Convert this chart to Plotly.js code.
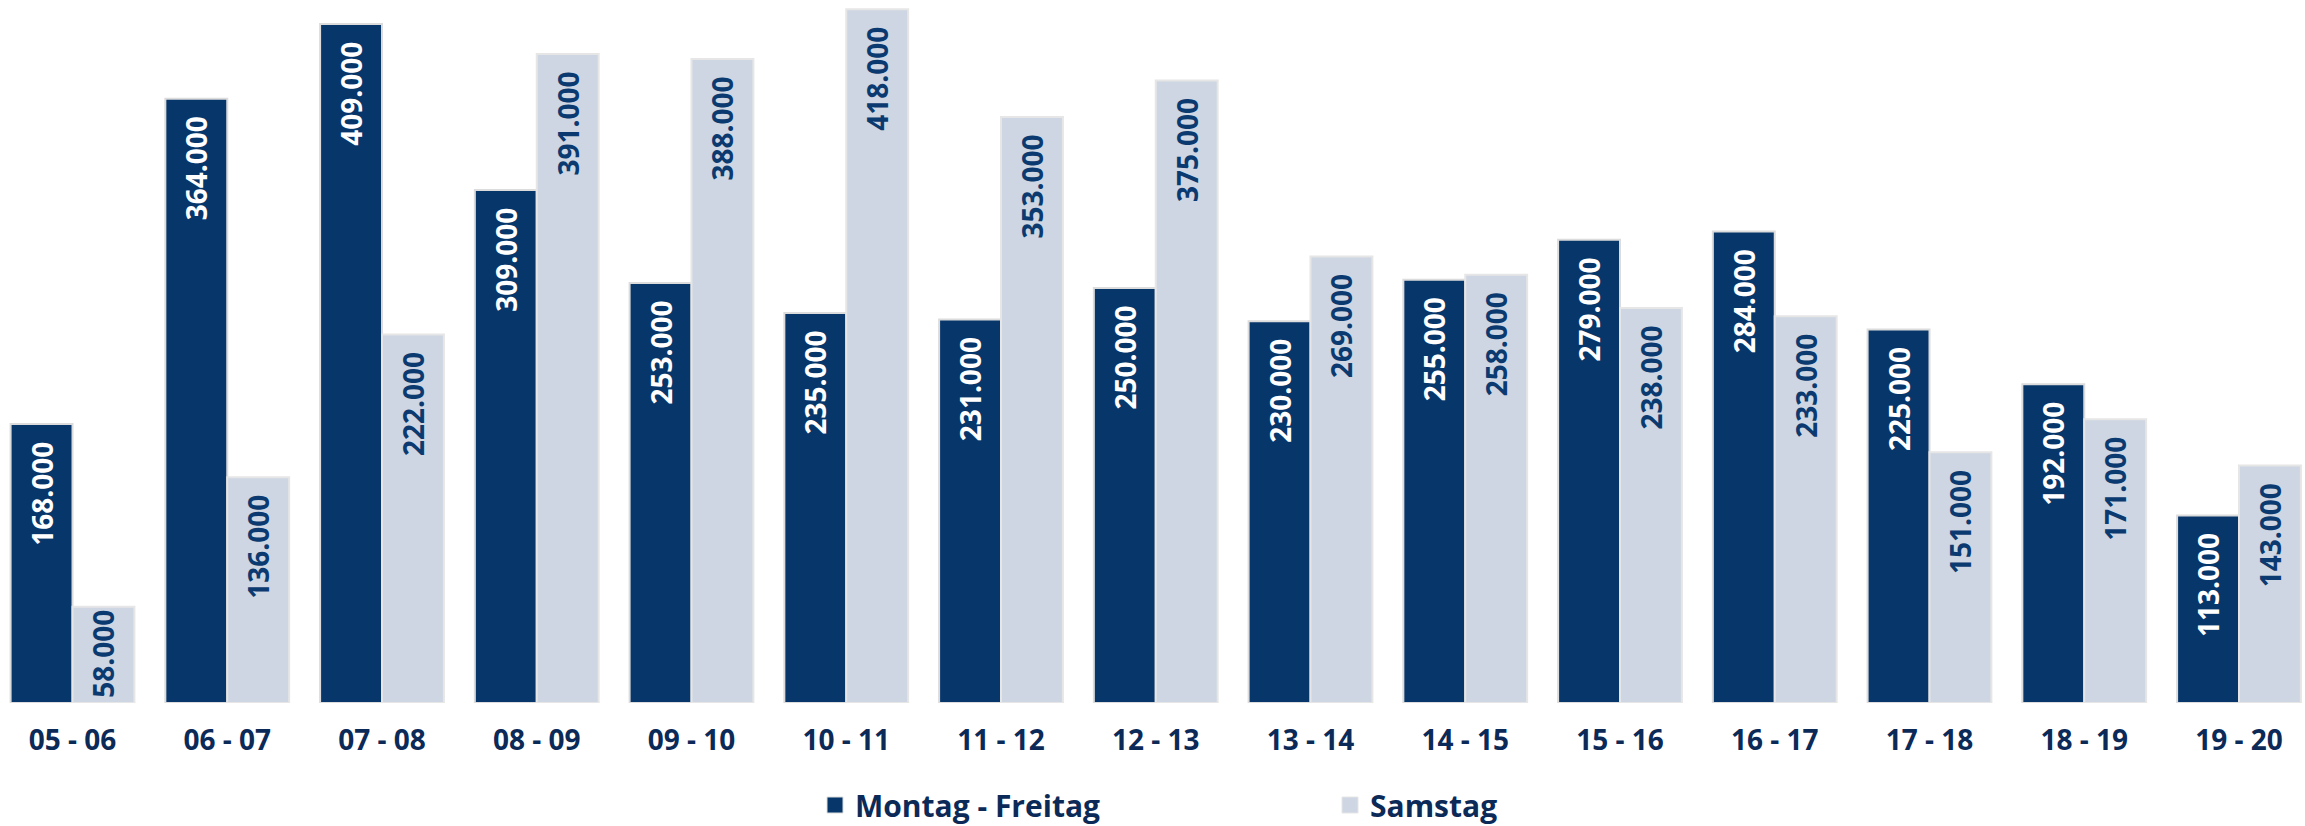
<!DOCTYPE html>
<html>
<head>
<meta charset="utf-8">
<script src="https://cdn.plot.ly/plotly-3.0.1.min.js"></script>
<style>html,body{margin:0;padding:0;background:#fff;}#chart{width:2305px;height:826px;}</style>
</head>
<body>
<div id="chart"></div>
<script>
const categories = ["05 - 06","06 - 07","07 - 08","08 - 09","09 - 10","10 - 11","11 - 12","12 - 13","13 - 14","14 - 15","15 - 16","16 - 17","17 - 18","18 - 19","19 - 20"];
const montagFreitag = [168000,364000,409000,309000,253000,235000,231000,250000,230000,255000,279000,284000,225000,192000,113000];
const samstag = [58000,136000,222000,391000,388000,418000,353000,375000,269000,258000,238000,233000,151000,171000,143000];
const seriesNames = ["Montag - Freitag","Samstag"];

const DARK = "#07366b";
const LIGHT = "#cdd6e2";
const TEXTDARK = "#0c2a58";

// German number format; short bars get no extra top padding so the label fits
function label(v) {
  const s = v.toLocaleString("de-DE");
  return v < 100000 ? s : s + "\u00a0\u00a0";
}

const barCommon = {
  type: "bar", textposition: "inside", insidetextanchor: "end",
  textangle: -90, constraintext: "none", cliponaxis: false,
  hoverinfo: "skip", showlegend: false
};

const traces = [
  Object.assign({}, barCommon, {
    name: seriesNames[0], x: categories, y: montagFreitag, legendgroup: "a",
    marker: {color: DARK, line: {color: "#dcdcdc", width: 2}},
    text: montagFreitag.map(label), texttemplate: "%{text}",
    textfont: {family: "Open Sans", size: 28, color: "#ffffff", weight: 700}
  }),
  Object.assign({}, barCommon, {
    name: seriesNames[1], x: categories, y: samstag, legendgroup: "b",
    marker: {color: LIGHT, line: {color: "#e6e6e6", width: 2}},
    text: samstag.map(label), texttemplate: "%{text}",
    textfont: {family: "Open Sans", size: 28, color: "#0b3a70", weight: 700}
  }),
  // legend entries (no data drawn)
  {type: "scatter", mode: "markers", x: [null], y: [null], name: seriesNames[0], legendgroup: "a",
   marker: {symbol: "square", size: 19, color: DARK, line: {color: "#dcdcdc", width: 1}}, hoverinfo: "skip"},
  {type: "scatter", mode: "markers", x: [null], y: [null], name: seriesNames[1], legendgroup: "b",
   marker: {symbol: "square", size: 19, color: LIGHT, line: {color: "#e6e6e6", width: 1}}, hoverinfo: "skip"}
];

const layout = {
  width: 2305, height: 826,
  margin: {l: 0, r: 0, t: 0, b: 123},
  paper_bgcolor: "#ffffff", plot_bgcolor: "#ffffff",
  separators: ",.",
  barmode: "group", bargap: 0.2, bargroupgap: 0,
  font: {family: "Open Sans", color: TEXTDARK},
  xaxis: {
    type: "category", range: [-0.4685, 14.4265], showgrid: false, zeroline: false,
    showline: false, ticks: "", fixedrange: true, ticklabelstandoff: 18, automargin: false,
    tickfont: {family: "Open Sans", size: 28, color: TEXTDARK, weight: 700}
  },
  yaxis: {
    range: [0, 423500], visible: false, showgrid: false, zeroline: false, fixedrange: true
  },
  showlegend: true,
  legend: {
    orientation: "h", xref: "container", yref: "container",
    x: 815/2305, xanchor: "left", y: 21/826, yanchor: "middle",
    entrywidth: 470, entrywidthmode: "pixels", itemsizing: "trace",
    font: {family: "Open Sans", size: 30, color: TEXTDARK, weight: 700},
    bgcolor: "rgba(0,0,0,0)"
  }
};

Plotly.newPlot("chart", traces, layout, {displayModeBar: false, staticPlot: true});
</script>
</body>
</html>
